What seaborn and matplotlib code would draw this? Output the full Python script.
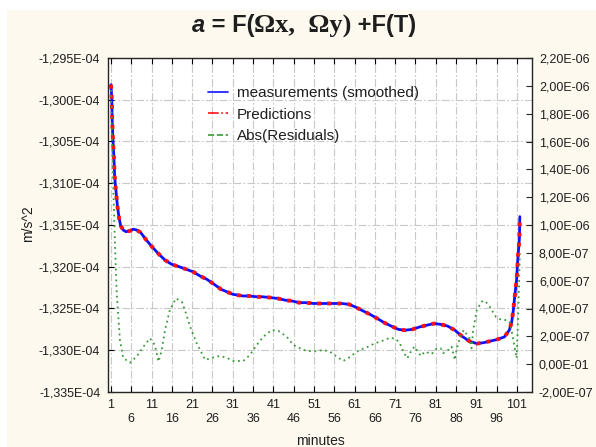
import matplotlib
matplotlib.use("Agg")
import matplotlib.pyplot as plt
from matplotlib.lines import Line2D
from matplotlib.patches import Rectangle
from matplotlib.offsetbox import TextArea, HPacker, AnchoredOffsetbox
import seaborn as sns

sns.set_style("white")
plt.rcParams["font.family"] = ["Liberation Sans", "DejaVu Sans"]

# --- data -------------------------------------------------------------
# smoothed acceleration, in units of 1e-4 m/s^2
minutes = [1.0, 1.2, 1.3, 1.5, 1.7, 1.9, 2.2, 2.6, 3.0, 3.4, 4.0, 4.7, 5.7,
           6.5, 7.3, 8.3, 9.7, 11.1, 12.6, 14.3, 15.9, 17.8, 19.5, 21.2,
           22.9, 24.6, 26.4, 28.1, 31.0, 33.5, 35.0, 37.0, 38.4, 40.4, 42.1,
           43.9, 45.6, 47.3, 49.0, 50.8, 52.7, 54.5, 56.2, 57.8, 59.6, 61.1,
           63.1, 64.8, 66.6, 68.3, 70.0, 71.8, 73.4, 75.2, 77.1, 78.8, 80.6,
           82.2, 83.9, 85.7, 87.4, 89.2, 91.1, 92.7, 94.5, 96.2, 97.9, 99.1,
           99.7, 100.1, 100.5, 100.9, 101.2, 101.6, 101.7]
measured = [-1.2982, -1.3000, -1.3026, -1.3050, -1.3068, -1.3092, -1.3108,
            -1.3128, -1.3142, -1.3151, -1.3156, -1.3158, -1.3157, -1.3155,
            -1.3156, -1.3159, -1.3168, -1.3176, -1.3184, -1.3192, -1.3197,
            -1.3200, -1.3203, -1.3206, -1.3211, -1.3215, -1.3221, -1.3227,
            -1.3233, -1.3235, -1.3235, -1.3236, -1.3236, -1.3237, -1.3238,
            -1.3240, -1.3241, -1.3243, -1.3243, -1.3244, -1.3244, -1.3244,
            -1.3244, -1.3244, -1.3245, -1.3248, -1.3253, -1.3257, -1.3262,
            -1.3267, -1.3271, -1.3275, -1.3276, -1.3275, -1.3272, -1.3270,
            -1.3268, -1.3269, -1.3271, -1.3276, -1.3283, -1.3289, -1.3292,
            -1.3291, -1.3289, -1.3287, -1.3284, -1.3276, -1.3266, -1.3252,
            -1.3233, -1.3216, -1.3191, -1.3166, -1.3140]
# model output follows the smoothed series within a line width
predicted = list(measured)

# absolute residuals, in units of 1e-7 m/s^2
resid_minutes = [1.0, 1.6, 2.0, 2.4, 3.2, 4.0, 5.7, 7.3, 9.0, 10.6, 11.8,
                 12.7, 13.5, 14.3, 15.5, 17.0, 18.4, 19.2, 20.5, 22.1, 24.2,
                 25.8, 27.8, 29.5, 31.1, 33.6, 35.2, 36.9, 38.5, 40.6, 42.2,
                 44.3, 45.9, 48.4, 50.8, 53.3, 54.9, 56.6, 58.2, 60.0, 61.3,
                 62.7, 64.4, 66.0, 67.7, 69.7, 71.2, 72.2, 73.2, 74.0, 74.6,
                 75.7, 76.3, 77.3, 78.3, 80.0, 81.0, 82.2, 82.8, 84.1, 84.9,
                 85.7, 86.1, 87.0, 87.9, 89.3, 89.8, 90.2, 91.1, 92.3, 93.1,
                 94.3, 95.8, 97.2, 98.6, 99.3, 100.1, 100.7, 100.9, 101.2,
                 101.5, 101.7]
residuals = [19.70, 12.30, 8.42, 5.11, 1.74, 0.45, 0.11, 0.54, 1.26, 1.86,
             1.38, 0.18, 1.02, 2.45, 3.89, 4.73, 4.49, 3.89, 2.69, 1.50, 0.30,
             0.46, 0.59, 0.46, 0.23, 0.23, 0.66, 1.38, 1.97, 2.45, 2.40, 1.97,
             1.38, 1.02, 0.90, 1.02, 0.90, 0.54, 0.23, 0.54, 0.86, 1.07, 1.26,
             1.50, 1.66, 1.90, 1.81, 1.45, 0.79, 0.43, 0.79, 1.26, 1.02, 0.59,
             0.90, 0.73, 1.07, 1.15, 0.79, 1.02, 1.26, 0.30, 1.02, 1.97, 2.45,
             1.86, 1.14, 2.45, 3.89, 4.49, 4.56, 4.13, 3.41, 3.17, 3.17, 2.98,
             1.74, 0.79, 0.43, 2.69, 5.57, 7.97]

x_ticks = list(range(1, 102, 5))
left_ticks = [-1.335, -1.330, -1.325, -1.320, -1.315, -1.310, -1.305,
              -1.300, -1.295]
left_labels = ["-1,335E-04", "-1,330E-04", "-1,325E-04", "-1,320E-04",
               "-1,315E-04", "-1,310E-04", "-1,305E-04", "-1,300E-04",
               "-1,295E-04"]
right_ticks = [-2, 0, 2, 4, 6, 8, 10, 12, 14, 16, 18, 20, 22]
right_labels = ["-2,00E-07", "0,00E-01", "2,00E-07", "4,00E-07", "6,00E-07",
                "8,00E-07", "1,00E-06", "1,20E-06", "1,40E-06", "1,60E-06",
                "1,80E-06", "2,00E-06", "2,20E-06"]

# --- figure -----------------------------------------------------------
W, H = 596, 447
cream = "#fdf9ee"
text_col = "#1e1e1e"
fig = plt.figure(figsize=(W / 100, H / 100), dpi=100, facecolor="white")
fig.patches.append(Rectangle((7 / W, 0), 1, 1 - 10 / H,
                             transform=fig.transFigure, facecolor=cream,
                             edgecolor="none", zorder=-10))

L, R, T, B = 108, 532, 58, 392
ax = fig.add_axes([L / W, 1 - B / H, (R - L) / W, (B - T) / H])
ax.set_facecolor("white")

blue = "#1010ff"
red = "#ff1010"
green = "#3a9a3a"

sns.lineplot(x=minutes, y=measured, ax=ax, color=blue, lw=2.0,
             sort=False, estimator=None, legend=False, zorder=3)
sns.lineplot(x=minutes, y=predicted, ax=ax, color=red, lw=2.8,
             linestyle=(0, (1, 1.6)), sort=False, estimator=None,
             legend=False, zorder=4)

ax.set_xlim(0.26, 104.7)
ax.set_ylim(-1.335, -1.295)
ax.set_xticks(x_ticks)
ax.set_xticklabels([str(v) if i % 2 == 0 else "\n" + str(v)
                    for i, v in enumerate(x_ticks)])
ax.set_yticks(left_ticks)
ax.set_yticklabels(left_labels)
ax.grid(True, color="#c8c8c8", linestyle=(0, (7, 2, 1.5, 2)), lw=0.8)
ax.set_axisbelow(True)
ax.tick_params(axis="both", direction="in", length=4, width=0.8,
               labelsize=9, labelcolor=text_col, color="black")
ax.tick_params(axis="x", bottom=True, top=True, pad=5)
ax.tick_params(axis="y", left=True, right=False, pad=5.5)
for s in ax.spines.values():
    s.set_color("black")
    s.set_linewidth(0.9)

ax.set_xlabel("minutes", fontsize=10, color=text_col)
ax.set_ylabel("m/s^2", fontsize=10, color=text_col)
ax.xaxis.set_label_coords(0.5, (B - 434) / (B - T))
ax.yaxis.set_label_coords((35 - L) / (R - L), 0.505)

ax2 = ax.twinx()
sns.lineplot(x=resid_minutes, y=residuals, ax=ax2, color=green, lw=1.3,
             linestyle=(0, (1, 2)), sort=False, estimator=None,
             legend=False)
ax2.set_ylim(-2, 22)
ax2.set_yticks(right_ticks)
ax2.set_yticklabels(right_labels)
ax2.grid(False)
ax2.tick_params(axis="y", right=True, direction="in", length=4, width=0.8,
                labelsize=9, labelcolor=text_col, pad=5)
ax2.set_ylabel("")

handles = [Line2D([], [], color=blue, lw=1.2),
           Line2D([], [], color=red, lw=1.2, linestyle="-."),
           Line2D([], [], color=green, lw=1.2, linestyle="--")]
ax2.legend(handles, ["measurements (smoothed)", "Predictions",
                     "Abs(Residuals)"],
           loc="upper left", bbox_to_anchor=(208 / W, 1 - 86 / H),
           bbox_transform=fig.transFigure, frameon=False, fontsize=11,
           handlelength=1.3, handletextpad=0.6, labelspacing=0.5,
           borderpad=0, borderaxespad=0, labelcolor=text_col)

# title: sans-serif formula with serif Omega terms
fs = 17
parts = [
    TextArea("a", textprops=dict(fontsize=fs, fontweight="bold",
                                 fontstyle="italic", color=text_col)),
    TextArea(" = F(", textprops=dict(fontsize=fs, fontweight="bold",
                                     color=text_col)),
    TextArea("\u03a9x,  \u03a9y)", textprops=dict(
        fontsize=19, fontweight="bold", color=text_col,
        family=["Liberation Serif", "DejaVu Serif"])),
    TextArea(" +F(T)", textprops=dict(fontsize=fs, fontweight="bold",
                                      color=text_col)),
]
title = AnchoredOffsetbox(loc="center",
                          child=HPacker(children=parts, pad=0, sep=0,
                                        align="baseline"),
                          bbox_to_anchor=(304 / W, 1 - 26 / H),
                          bbox_transform=fig.transFigure, frameon=False,
                          pad=0, borderpad=0)
fig.add_artist(title)

fig.savefig("out.png", dpi=100, facecolor=fig.get_facecolor())
